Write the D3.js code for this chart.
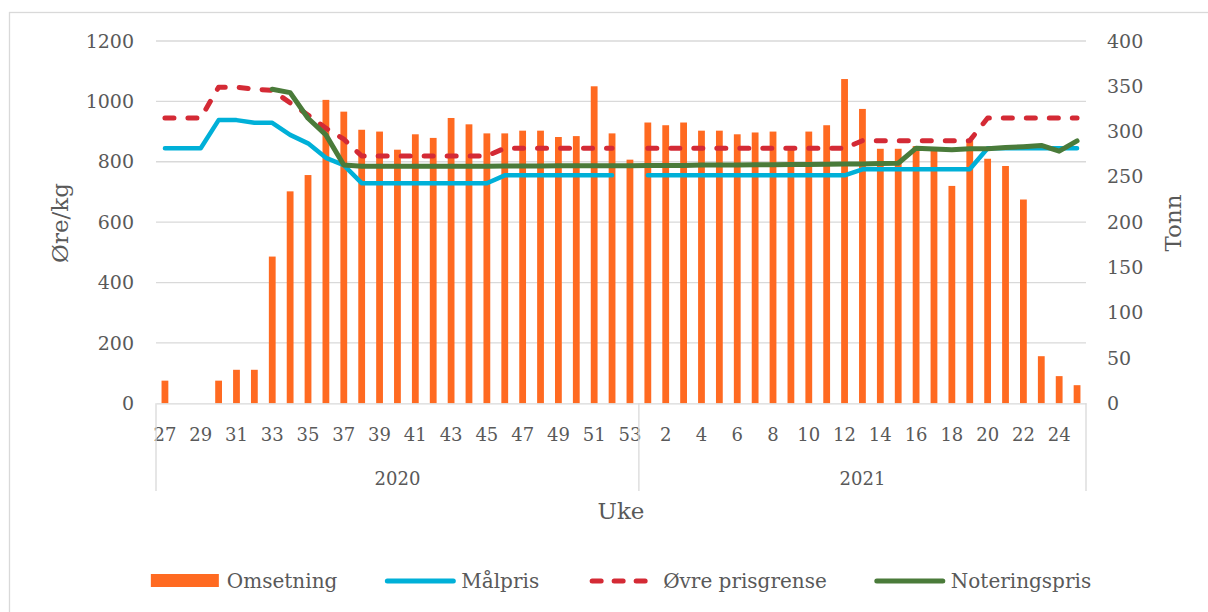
<!DOCTYPE html>
<html>
<head>
<meta charset="utf-8">
<script src="https://cdn.jsdelivr.net/npm/d3@7"></script>
<style>
  body { margin: 0; background: #fff; }
  text { font-family: "DejaVu Serif", serif; fill: #595959; }
</style>
</head>
<body>
<div id="chart"></div>
<script>
// weeks per year
let weeks2020 = [27,28,29,30,31,32,33,34,35,36,37,38,39,40,41,42,43,44,45,46,47,48,49,50,51,52,53];
let weeks2021 = [1,2,3,4,5,6,7,8,9,10,11,12,13,14,15,16,17,18,19,20,21,22,23,24,25];

// Omsetning (Tonn, right axis)
let omsetning2020 = [25,null,null,25,37,37,162,234,252,335,322,302,300,280,297,293,315,308,298,298,301,301,294,295,350,298,269];
let omsetning2021 = [310,307,310,301,301,297,299,300,280,300,307,358,325,281,281,284,282,240,290,270,262,225,52,30,20];

// prices (Øre/kg, left axis)
let malpris2020 = [845,845,845,938,938,929,929,889,861,813,789,729,729,729,729,729,729,729,729,755,755,755,755,755,755,755,null];
let malpris2021 = [755,755,755,755,755,755,755,755,755,755,755,755,775,775,775,775,775,775,775,845,845,845,845,845,845];

let ovre2020 = [945,945,945,1047,1047,1040,1037,995,955,911,875,819,819,819,819,819,819,819,819,845,845,845,845,845,845,845,null];
let ovre2021 = [845,845,845,845,845,845,845,845,845,845,845,845,870,870,870,870,870,870,870,945,945,945,945,945,945];

let notering2020 = [null,null,null,null,null,null,1040,1029,944,889,789,785,785,785,785,785,785,785,785,786,786,786,787,787,787,787,787];
let notering2021 = [788,788,788,789,789,789,790,790,791,791,792,793,793,794,795,845,842,840,843,843,847,850,854,835,869];

let leftTicks = [0,200,400,600,800,1000,1200];
let rightTicks = [0,50,100,150,200,250,300,350,400];

// build rows
let rows = [];
weeks2020.forEach((w, i) => rows.push({key: '2020-' + w, year: 2020, week: w,
  oms: omsetning2020[i], mal: malpris2020[i], ovre: ovre2020[i], not: notering2020[i]}));
weeks2021.forEach((w, i) => rows.push({key: '2021-' + w, year: 2021, week: w,
  oms: omsetning2021[i], mal: malpris2021[i], ovre: ovre2021[i], not: notering2021[i]}));

let W = 1208, H = 612;
let plot = {left: 156, right: 1086, top: 41, bottom: 403.3};

let svg = d3.select('#chart').append('svg')
  .attr('width', W).attr('height', H)
  .style('background-color', 'white');

// outer frame
svg.append('rect')
  .attr('x', 9.5).attr('y', 12.5)
  .attr('width', W + 10).attr('height', H + 10)
  .attr('fill', 'none').attr('stroke', '#d9d9d9').attr('stroke-width', 1.3);

let x = d3.scaleBand()
  .domain(rows.map(d => d.key))
  .range([plot.left, plot.right])
  .paddingInner(0.62)
  .paddingOuter(0.31);

let yL = d3.scaleLinear().domain([0, 1200]).range([plot.bottom, plot.top]);
let yR = d3.scaleLinear().domain([0, 400]).range([plot.bottom, plot.top]);

// gridlines
svg.append('g').selectAll('line')
  .data(leftTicks.filter(t => t > 0))
  .enter().append('line')
  .attr('x1', plot.left).attr('x2', plot.right)
  .attr('y1', d => yL(d)).attr('y2', d => yL(d))
  .attr('stroke', '#d9d9d9').attr('stroke-width', 1.3);

// left axis
let gl = svg.append('g')
  .attr('transform', 'translate(' + plot.left + ',0)')
  .call(d3.axisLeft(yL).tickValues(leftTicks).tickFormat(d3.format('d')).tickSize(0).tickPadding(22));
gl.select('.domain').remove();
gl.selectAll('text').style('font-size', '19px').style('font-family', '"DejaVu Serif", serif').attr('fill', '#595959');

// right axis
let gr = svg.append('g')
  .attr('transform', 'translate(' + plot.right + ',0)')
  .call(d3.axisRight(yR).tickValues(rightTicks).tickFormat(d3.format('d')).tickSize(0).tickPadding(21));
gr.select('.domain').remove();
gr.selectAll('text').style('font-size', '19px').style('font-family', '"DejaVu Serif", serif').attr('fill', '#595959');

// bars
svg.append('g').selectAll('.bar')
  .data(rows.filter(d => d.oms != null))
  .enter().append('rect')
  .attr('class', 'bar')
  .attr('x', d => x(d.key))
  .attr('y', d => yR(d.oms))
  .attr('width', x.bandwidth())
  .attr('height', d => yR(0) - yR(d.oms))
  .attr('fill', '#ff6a21');

// x axis
let gx = svg.append('g')
  .attr('transform', 'translate(0,' + plot.bottom + ')')
  .call(d3.axisBottom(x).tickSize(0).tickPadding(25)
    .tickFormat((k, i) => i % 2 === 0 ? rows[i].week : ''));
gx.select('.domain').attr('stroke', '#d9d9d9').attr('stroke-width', 1.3);
gx.selectAll('text').style('font-size', '18px').style('font-family', '"DejaVu Serif", serif').attr('fill', '#595959');

// year groups
let years = [2020, 2021];
let step = x.step();
let groupEdges = years.map(yr => {
  let ks = rows.filter(d => d.year === yr).map(d => d.key);
  let x0 = x(ks[0]) - step * x.paddingInner() / 2;
  let x1 = x(ks[ks.length - 1]) + x.bandwidth() + step * x.paddingInner() / 2;
  return {year: yr, x0: x0, x1: x1};
});
let sepX = [plot.left, groupEdges[0].x1, plot.right];
svg.append('g').selectAll('line')
  .data(sepX)
  .enter().append('line')
  .attr('x1', d => d).attr('x2', d => d)
  .attr('y1', plot.bottom).attr('y2', 491)
  .attr('stroke', '#d9d9d9').attr('stroke-width', 1.3);

svg.append('g').selectAll('text')
  .data(groupEdges)
  .enter().append('text')
  .attr('x', d => (d.x0 + d.x1) / 2)
  .attr('y', 485)
  .attr('text-anchor', 'middle')
  .style('font-size', '18px')
  .text(d => d.year);

// lines
let cx = d => x(d.key) + x.bandwidth() / 2;
function drawLine(field, color, width, dash) {
  let line = d3.line()
    .defined(d => d[field] != null)
    .x(cx)
    .y(d => yL(d[field]));
  let p = svg.append('path')
    .datum(rows)
    .attr('d', line)
    .attr('fill', 'none')
    .attr('stroke', color)
    .attr('stroke-width', width)
    .attr('stroke-linejoin', 'round')
    .attr('stroke-linecap', 'round');
  if (dash) p.attr('stroke-dasharray', dash);
}
drawLine('mal', '#00b0d8', 4.5);
drawLine('ovre', '#d42a35', 5, '9,14');
drawLine('not', '#4a7b3a', 5);

// axis titles
svg.append('text')
  .attr('transform', 'translate(68,223) rotate(-90)')
  .attr('text-anchor', 'middle')
  .style('font-size', '23px')
  .text('Øre/kg');
svg.append('text')
  .attr('transform', 'translate(1181,223) rotate(-90)')
  .attr('text-anchor', 'middle')
  .style('font-size', '23px')
  .text('Tonn');
svg.append('text')
  .attr('x', (plot.left + plot.right) / 2)
  .attr('y', 519)
  .attr('text-anchor', 'middle')
  .style('font-size', '23px')
  .text('Uke');

// legend
let legendItems = [
  {name: 'Omsetning', type: 'bar', color: '#ff6a21'},
  {name: 'Målpris', type: 'line', color: '#00b0d8'},
  {name: 'Øvre prisgrense', type: 'dash', color: '#d42a35'},
  {name: 'Noteringspris', type: 'line', color: '#4a7b3a'}
];
let legend = svg.append('g');
let ly = 581, symW = 70, gapT = 6, gapI = 48;
let cursor = 0;
legendItems.forEach(item => {
  let g = legend.append('g');
  if (item.type === 'bar') {
    g.append('rect').attr('x', 0).attr('y', ly - 7).attr('width', 68).attr('height', 13).attr('fill', item.color);
  } else {
    let l = g.append('line').attr('x1', 2).attr('x2', symW - 2).attr('y1', ly).attr('y2', ly)
      .attr('stroke', item.color).attr('stroke-width', 5).attr('stroke-linecap', 'round');
    if (item.type === 'dash') l.attr('stroke-dasharray', '9,13').attr('x1', 5).attr('x2', symW - 5);
  }
  let t = g.append('text').attr('x', symW + gapT).attr('y', ly + 7).style('font-size', '20px').text(item.name);
  let w = symW + gapT + t.node().getComputedTextLength();
  g.attr('transform', 'translate(' + cursor + ',0)');
  cursor += w + gapI;
});
let totalW = cursor - gapI;
legend.attr('transform', 'translate(' + ((plot.left + plot.right) / 2 - totalW / 2) + ',0)');
</script>
</body>
</html>
